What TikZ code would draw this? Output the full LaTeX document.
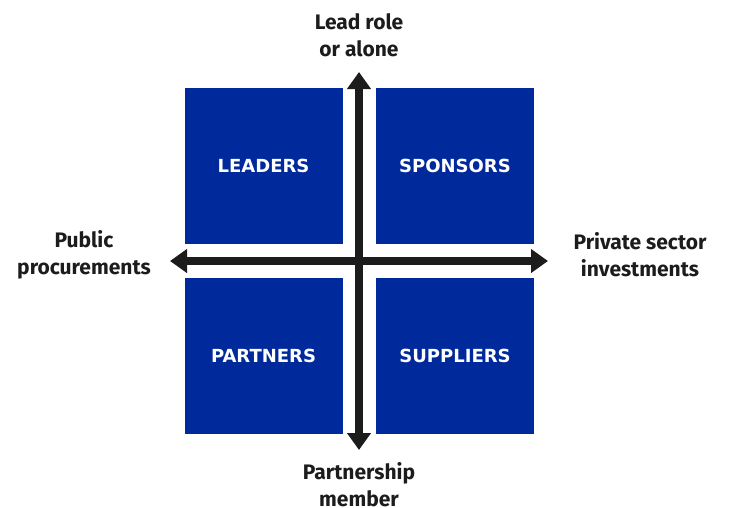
\documentclass[tikz,border=0pt]{standalone}
\usepackage{fontspec}
\setmainfont{Fira Sans}
\newfontfamily\boxfont{DejaVu Sans}
\usetikzlibrary{positioning,arrows.meta}
\definecolor{quadblue}{RGB}{0,42,156}
\definecolor{axisgray}{RGB}{28,28,28}
\tikzset{
quadnode/.style = {rectangle, fill=quadblue, minimum width=158pt, minimum height=156pt, inner sep=0pt,
  text=white, font=\boxfont\bfseries\fontsize{18}{21}\selectfont},
axislabel/.style = {align=center, text=axisgray, inner sep=0pt, font=\bfseries\fontsize{21}{27}\selectfont},
axis/.style = {line width=7.5pt, draw=axisgray, {Triangle[length=17pt,width=23pt]}-{Triangle[length=17pt,width=23pt]}}
}
\begin{document}
\begin{tikzpicture}[x=1pt, y=-1pt]
      \useasboundingbox (0,0) rectangle (729,507);
      % the four quadrants
      \node [quadnode] (leaders) at (263.5,166) {LEADERS};
      \node [quadnode] (sponsors) at (455,166) {SPONSORS};
      \node [quadnode] (partners) at (263.5,356) {PARTNERS};
      \node [quadnode] (suppliers) at (455,356) {SUPPLIERS};
      % axes
      \coordinate (top) at (359,72);
      \coordinate (bottom) at (359,450);
      \coordinate (left) at (170,261);
      \coordinate (right) at (548,261);
      \draw [axis] (top) -- (bottom);
      \draw [axis] (left) -- (right);
      % axis labels
      \node [axislabel] (lead) at (359,35) {Lead role\\or alone};
      \node [axislabel] (member) at (359,485) {Partnership\\member};
      \node [axislabel] (public) at (84,255) {Public\\procurements};
      \node [axislabel] (private) at (640,255) {Private sector\\investments};
\end{tikzpicture}
\end{document}
